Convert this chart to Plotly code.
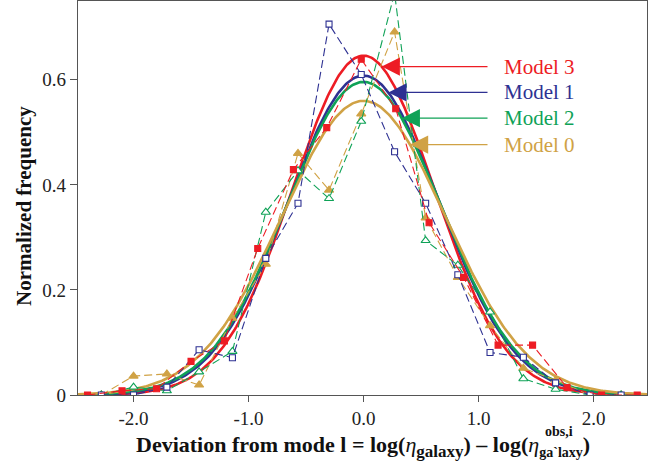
import numpy as np
import plotly.graph_objects as go

# ---------------- data ----------------
# Model 3 histogram (filled red squares)
x_m3 = [-2.40, -2.10, -1.80, -1.50, -1.21, -0.92, -0.61, -0.32, -0.02,
        0.28, 0.57, 0.87, 1.17, 1.47, 1.77, 2.07, 2.38]
y_m3 = [0.0, 0.008, 0.012, 0.064, 0.103, 0.279, 0.429, 0.509, 0.639,
        0.545, 0.328, 0.224, 0.095, 0.095, 0.014, 0.0, 0.0]

# Models 1, 2, 0 share the same bin centres
x_bins = [-2.28, -2.00, -1.71, -1.43, -1.14, -0.85, -0.57, -0.30, -0.02,
          0.27, 0.54, 0.82, 1.10, 1.39, 1.67, 1.97, 2.24]
y_m1 = [0.0, 0.0, 0.015, 0.086, 0.071, 0.260, 0.365, 0.706, 0.610,
        0.463, 0.365, 0.229, 0.081, 0.072, 0.023, 0.0, 0.0]
y_m2 = [0.0, 0.015, 0.008, 0.044, 0.083, 0.348, 0.427, 0.374, 0.521,
        0.765, 0.294, 0.247, 0.158, 0.031, 0.011, 0.0, 0.0]
y_m0 = [0.0, 0.036, 0.040, 0.019, 0.146, 0.249, 0.460, 0.390, 0.535,
        0.691, 0.337, 0.224, 0.132, 0.051, 0.028, 0.0, 0.0]

# Gaussian fits (peak height and width)
model_names = ["Model 3", "Model 1", "Model 2", "Model 0"]
fit_peak = [0.646, 0.608, 0.596, 0.560]
fit_sigma = [0.6175, 0.656, 0.669, 0.712]
fit_mean = [0.0, 0.0, 0.0, 0.0]
arrow_tip_x = [0.158, 0.216, 0.332, 0.404]

x_ticks = [-2, -1, 0, 1, 2]
x_ticktext = ["-2.0", "-1.0", "0.0", "1.0", "2.0"]
y_ticks = [0, 0.2, 0.4, 0.6]
y_ticktext = ["0", "0.2", "0.4", "0.6"]

# ---------------- styling ----------------
RED = "#ed1c24"
BLUE = "#2e3192"
GREEN = "#0fa257"
GOLD = "#d0a245"
colors = [RED, BLUE, GREEN, GOLD]
SERIF = "Liberation Serif, DejaVu Serif, Times New Roman, serif"
XR = [-2.483, 2.465]

fig = go.Figure()

# fitted curves
xs = np.linspace(XR[0], XR[1], 400)
def gauss(x, a, m, s):
    return a * np.exp(-(np.asarray(x) - m) ** 2 / (2 * s * s))

for name, a, m, s, c in zip(model_names, fit_peak, fit_mean, fit_sigma, colors):
    fig.add_trace(go.Scatter(x=xs, y=gauss(xs, a, m, s), mode="lines",
                             line=dict(color=c, width=2.6), name=name + " fit",
                             showlegend=False, hoverinfo="skip"))

dash = "8px,4px"
series = [
    (x_bins, y_m0, GOLD, "triangle-up", GOLD, 8),
    (x_bins, y_m2, GREEN, "triangle-up", "white", 8),
    (x_bins, y_m1, BLUE, "square", "white", 6),
    (x_m3, y_m3, RED, "square", RED, 6),
]
for xv, yv, c, sym, fill, sz in series:
    fig.add_trace(go.Scatter(
        x=xv, y=yv, mode="lines+markers",
        line=dict(color=c, width=1.1, dash=dash),
        marker=dict(symbol=sym, size=sz, color=fill,
                    line=dict(color=c, width=1.1)),
        showlegend=False, hoverinfo="skip"))

# arrows + labels
tail_x = 1.091
label_x = 1.204
for name, a, m, s, c, tx in zip(model_names, fit_peak, fit_mean, fit_sigma, colors, arrow_tip_x):
    ty = float(gauss(tx, a, m, s))
    fig.add_annotation(x=tx, y=ty, ax=tail_x, ay=ty, xref="x", yref="y",
                       axref="x", ayref="y", text="", showarrow=True,
                       arrowhead=2, arrowsize=2.8, arrowwidth=1.3,
                       arrowcolor=c, standoff=0)
    fig.add_annotation(x=label_x, y=ty, xref="x", yref="y", text=name,
                       showarrow=False, xanchor="left", yanchor="middle",
                       font=dict(family=SERIF, size=21, color=c))

# axis titles as annotations
fig.add_annotation(x=-0.0949, y=0.48, xref="paper", yref="paper",
                   text="<b>Normalized frequency</b>", textangle=-90,
                   showarrow=False, xanchor="center", yanchor="middle",
                   font=dict(family=SERIF, size=21, color="#111"))
x_title = ("<b>Deviation from mode l = log(</b><i>η</i>"
           "<b><sub><span style='font-size:17px'>galaxy</span></sub>) – log(</b><i>η</i>"
           "<b><sub><span style='font-size:14px'>ga`laxy</span></sub>)</b>")
fig.add_annotation(x=0.501, y=-0.13, xref="paper", yref="paper",
                   text=x_title,
                   showarrow=False, xanchor="center", yanchor="middle",
                   font=dict(family=SERIF, size=22, color="#111"))
fig.add_annotation(x=(543 - 78) / 569, y=(395 - 431) / 394, xref="paper", yref="paper",
                   text="<b>obs,i</b>", showarrow=False, xanchor="left", yanchor="middle",
                   font=dict(family=SERIF, size=14, color="#111"))

axis_common = dict(showline=True, linecolor="#555", linewidth=1.4, mirror=True,
                   ticks="outside", tickcolor="#555", showgrid=False, zeroline=False,
                   tickfont=dict(family=SERIF, size=19, color="#222"))
fig.update_layout(
    width=665, height=468,
    margin=dict(l=78, r=18, t=1, b=73),
    paper_bgcolor="white", plot_bgcolor="white",
    showlegend=False,
    font=dict(family=SERIF),
    xaxis=dict(range=XR, tickvals=x_ticks, ticktext=x_ticktext, ticklen=6, **axis_common),
    yaxis=dict(range=[0, 0.75], tickvals=y_ticks, ticktext=y_ticktext, ticklen=7, **axis_common),
)

fig.write_html("out.html")
